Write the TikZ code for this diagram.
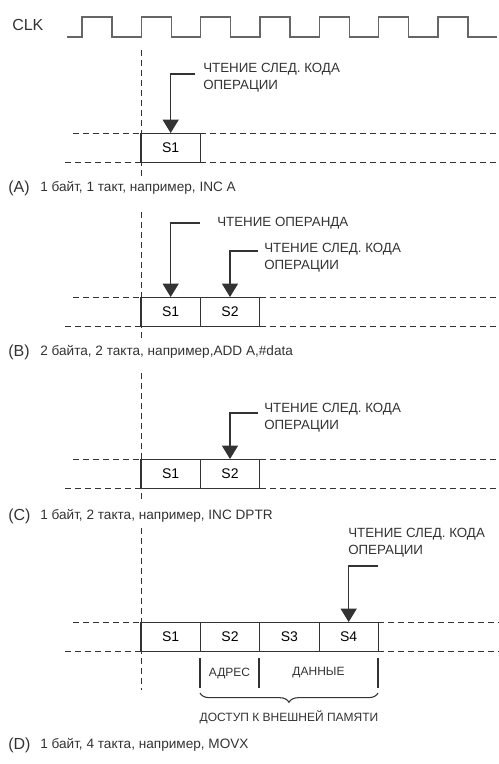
\documentclass[tikz,border=0pt]{standalone}
\usepackage{fontspec}
\setmainfont{Liberation Sans}
\usepackage{xcolor}
\usepackage{tikz}
\usetikzlibrary{arrows.meta,positioning,calc,decorations.pathreplacing}
\definecolor{ink}{HTML}{333333}
\tikzset{
    cell/.style={
        draw=ink, line width=0.7pt, anchor=north west,
        minimum width=44.5pt, minimum height=21.75pt,
        inner sep=0pt, outer sep=0pt, font=\fontsize{10.5}{12}\selectfont
    },
    note/.style={
        anchor=north west, align=left, inner sep=0pt,
        text=ink, font=\fontsize{10}{13}\selectfont
    },
    tag/.style={anchor=west, inner sep=0pt, text=ink, font=\fontsize{12}{14}\selectfont},
    caption/.style={anchor=west, inner sep=0pt, text=ink, font=\fontsize{10.2}{12}\selectfont},
    small/.style={inner sep=0pt, text=ink, font=\fontsize{9}{11}\selectfont},
    guide/.style={draw=ink, line width=0.7pt, dash pattern=on 4.5pt off 3pt},
    ptr/.style={-{Triangle[width=12pt,length=10pt]}, draw=ink, line width=0.9pt},
    clk/.style={draw=black!60, line width=1.1pt},
    tick/.style={draw=ink, line width=0.8pt},
    edge/.style={draw=ink, line width=1.6pt}
}

\begin{document}
\begin{tikzpicture}[x=0.75pt, y=-0.75pt]
\useasboundingbox (0,0) rectangle (499,764);

%% clock line
\node[anchor=west, inner sep=0pt, text=ink, font=\fontsize{12}{14}\selectfont] (clk) at (12,25) {CLK};
\draw[clk] (67,37) -- (82,37)
    \foreach \k in {1,...,7} { -- ++(0,-20) -- ++(30,0) -- ++(0,20) -- ++(29.33,0) };

%% vertical reference line (broken at the captions)
\foreach \ya/\yb in {50/178, 212/338, 373/503, 528/690}
    \draw[guide] (141,\ya) -- (141,\yb);

%% (A) 1 byte, 1 cycle
\node[cell] (a1) at (141,133) {S1};
\draw[guide] (73,133) -- (a1.north west);
\draw[guide] (65,162) -- (a1.south west);
\draw[guide] (a1.north east) -- (499,133);
\draw[guide] (a1.south east) -- (499,162);
\draw[edge] (a1.north west) -- (a1.south west);
\node[note] (ntA) at (203,63) {ЧТЕНИЕ СЛЕД. КОДА\\ОПЕРАЦИИ};
\coordinate (hA) at (195,74);
\draw[ptr] (hA) -| (a1.north);
\node[tag] (tagA) at (8,188) {(A)};
\node[caption] (capA) at (40,188) {1 байт, 1 такт, например, INC A};

%% (B) 2 bytes, 2 cycles
\node[cell] (b1) at (141,297) {S1};
\node[cell, right=0pt of b1] (b2) {S2};
\draw[guide] (73,297) -- (b1.north west);
\draw[guide] (65,326) -- (b1.south west);
\draw[guide] (b2.north east) -- (499,297);
\draw[guide] (b2.south east) -- (499,326);
\draw[edge] (b1.north west) -- (b1.south west);
\node[note] (ntB1) at (217,217) {ЧТЕНИЕ ОПЕРАНДА};
\node[note] (ntB2) at (264,243) {ЧТЕНИЕ СЛЕД. КОДА\\ОПЕРАЦИИ};
\coordinate (hB1) at (200,223);
\coordinate (hB2) at (258,251);
\draw[ptr] (hB1) -| (b1.north);
\draw[ptr] (hB2) -| (b2.north);
\node[tag] (tagB) at (8,352) {(B)};
\node[caption] (capB) at (40,352) {2 байта, 2 такта, например,ADD A,\#data};

%% (C) 1 byte, 2 cycles
\node[cell] (c1) at (141,459) {S1};
\node[cell, right=0pt of c1] (c2) {S2};
\draw[guide] (73,459) -- (c1.north west);
\draw[guide] (65,488) -- (c1.south west);
\draw[guide] (c2.north east) -- (499,459);
\draw[guide] (c2.south east) -- (499,488);
\draw[edge] (c1.north west) -- (c1.south west);
\node[note] (ntC) at (264,403) {ЧТЕНИЕ СЛЕД. КОДА\\ОПЕРАЦИИ};
\coordinate (hC) at (258,413);
\draw[ptr] (hC) -| (c2.north);
\node[tag] (tagC) at (8,516) {(C)};
\node[caption] (capC) at (40,516) {1 байт, 2 такта, например, INC DPTR};

%% (D) 1 byte, 4 cycles, external memory
\node[cell] (d1) at (141,622) {S1};
\node[cell, right=0pt of d1] (d2) {S2};
\node[cell, right=0pt of d2] (d3) {S3};
\node[cell, right=0pt of d3] (d4) {S4};
\draw[guide] (73,622) -- (d1.north west);
\draw[guide] (65,651) -- (d1.south west);
\draw[guide] (d4.north east) -- (499,622);
\draw[guide] (d4.south east) -- (499,651);
\draw[edge] (d1.north west) -- (d1.south west);
\node[note] (ntD) at (348,528) {ЧТЕНИЕ СЛЕД. КОДА\\ОПЕРАЦИИ};
\coordinate (hD) at (378,566);
\draw[ptr] (hD) -| (d4.north);

\coordinate (t1) at (200,658);
\coordinate (t2) at (259,658);
\coordinate (t3) at (378,658);
\foreach \t in {t1,t2,t3}
    \draw[tick] (\t) -- ++(0,30);
\node[small] (adr) at (229.5,673) {АДРЕС};
\node[small] (dat) at (318.5,673) {ДАННЫЕ};
\draw[tick, decorate, decoration={brace, amplitude=7pt}] (378,693) -- (200,693);
\node[small] (ext) at (289,717) {ДОСТУП К ВНЕШНЕЙ ПАМЯТИ};
\node[tag] (tagD) at (8,745) {(D)};
\node[caption] (capD) at (40,745) {1 байт, 4 такта, например, MOVX};

\end{tikzpicture}
\end{document}
